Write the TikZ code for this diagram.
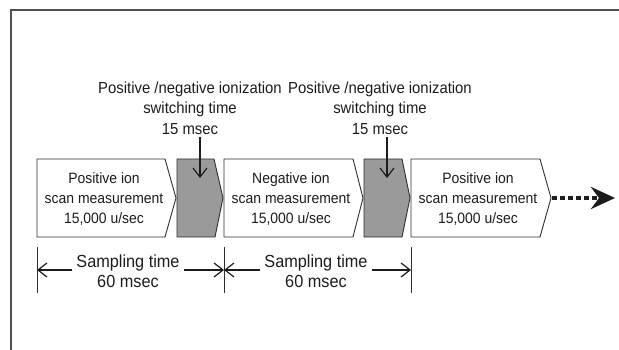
\documentclass[tikz,border=0pt]{standalone}
\usepackage{fontspec}
\setmainfont{Liberation Sans}
\newfontfamily\narrowsans{Liberation Sans}[FakeStretch=0.93]
\usetikzlibrary{arrows.meta}
\definecolor{ink}{HTML}{1E1B1C}
\definecolor{edge}{HTML}{2E2E2E}
\definecolor{frameline}{HTML}{505050}
\definecolor{switchfill}{HTML}{9A9A9A}
\tikzset{
  scanbox/.style={draw=edge, line width=0.9pt, fill=white},
  switchbox/.style={draw=edge, line width=0.9pt, fill=switchfill},
  boxtext/.style={text=ink, align=center, font=\narrowsans\fontsize{15}{20}\selectfont, inner sep=0pt},
  toptext/.style={text=ink, align=center, font=\narrowsans\fontsize{16}{20.5}\selectfont, inner sep=2pt},
  spantext/.style={text=ink, align=center, font=\narrowsans\fontsize{17.5}{20}\selectfont, inner sep=4pt},
  marker/.style={draw=edge, line width=0.9pt},
  barb/.style={draw=ink, line width=1.2pt, -{Straight Barb[length=9pt,width=14pt]}},
  onward/.style={draw=ink, line width=4pt, dash pattern=on 5pt off 3pt,
    -{Stealth[length=24pt,width=22pt,inset=8pt]}}
}
\begin{document}
\begin{tikzpicture}[x=1pt,y=-1pt]
\useasboundingbox (0,0) rectangle (619,350);
% outer frame (open at right and bottom)
\draw[frameline, line width=1.4pt] (11,350) -- (11,10) -- (619,10);

% scan segments and switching segments
\draw[scanbox] (37,159) -- (165,159) -- (176,198) -- (165,237) -- (37,237) -- cycle;
\draw[switchbox] (177,159) -- (214,159) -- (223,198) -- (215,237) -- (177,237) -- cycle;
\draw[scanbox] (224,159) -- (353,159) -- (363,198) -- (353,237) -- (224,237) -- cycle;
\draw[switchbox] (364,159) -- (402,159) -- (410,198) -- (402,237) -- (364,237) -- cycle;
\draw[scanbox] (411,159) -- (540,159) -- (551,198) -- (540,237) -- (411,237) -- cycle;

\node[boxtext] (scan1) at (104,199) {Positive ion\\scan measurement\\15,000 u/sec};
\node[boxtext] (scan2) at (291,199) {Negative ion\\scan measurement\\15,000 u/sec};
\node[boxtext] (scan3) at (478,199) {Positive ion\\scan measurement\\15,000 u/sec};

% switching time labels and their pointers
\node[toptext] (sw1) at (190,108) {Positive /negative ionization\\switching time\\15 msec};
\node[toptext] (sw2) at (380,108) {Positive /negative ionization\\switching time\\15 msec};
\coordinate (g1) at (200,178);
\coordinate (g2) at (387,178);
\draw[barb] (g1 |- sw1.south) -- (g1);
\draw[barb] (g2 |- sw2.south) -- (g2);

% continuation arrow
\coordinate (tip3) at (552,198);
\coordinate (beyond) at (615,198);
\draw[onward] (tip3) -- (beyond);

% sampling time spans
\coordinate (v1) at (37,247);
\coordinate (v2) at (224,247);
\coordinate (v3) at (411,247);
\draw[marker] (v1) -- ++(0,46);
\draw[marker] (v2) -- ++(0,46);
\draw[marker] (v3) -- ++(0,46);
\node[spantext] (span1) at (128,271) {Sampling time\\60 msec};
\node[spantext] (span2) at (316,271) {Sampling time\\60 msec};
\draw[barb] (span1.west |- 0,270) -- (v1 |- 0,270);
\draw[barb] (span1.east |- 0,270) -- (v2 |- 0,270);
\draw[barb] (span2.west |- 0,270) -- (v2 |- 0,270);
\draw[barb] (span2.east |- 0,270) -- (v3 |- 0,270);
\end{tikzpicture}
\end{document}
